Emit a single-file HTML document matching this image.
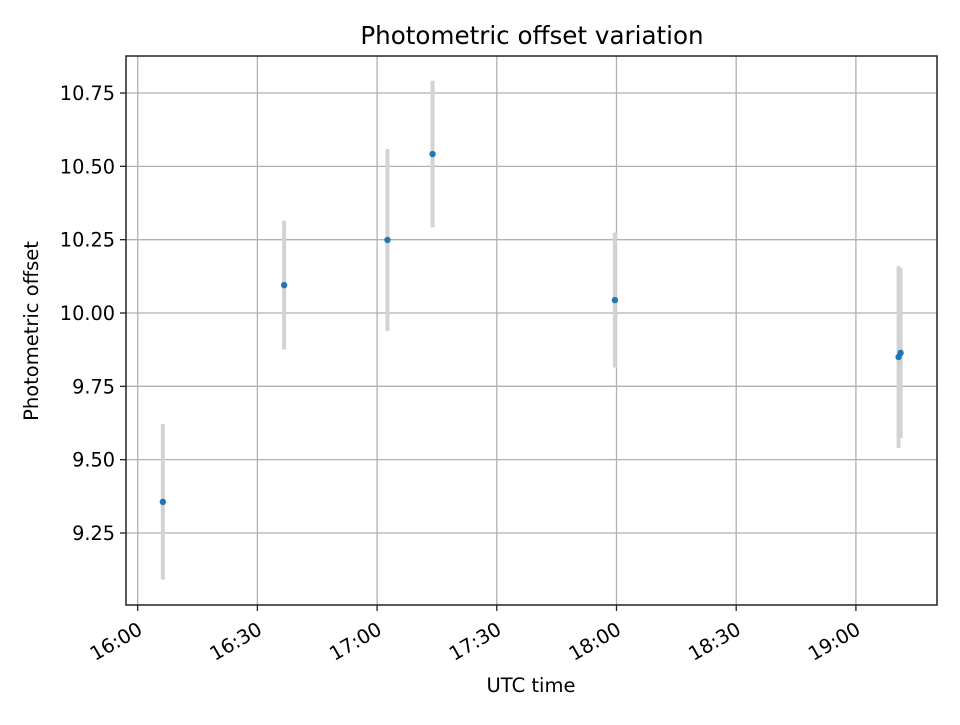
<!DOCTYPE html>
<html><head><meta charset="utf-8"><style>
html,body{margin:0;padding:0;background:#fff;}
svg text{font-family:"DejaVu Sans","Liberation Sans",sans-serif;fill:#000;}
</style></head><body>
<svg id="chart" width="960" height="720" viewBox="0 0 960 720" xmlns="http://www.w3.org/2000/svg">
<rect x="0" y="0" width="960" height="720" fill="#fff"/>
<g id="grid"></g>
<g id="bars"></g>
<g id="points"></g>
<rect x="126" y="56" width="811" height="549" fill="none" stroke="#222" stroke-width="1.5"/>
<g id="xticks"></g>
<g id="yticks"></g>
<text x="532" y="44" text-anchor="middle" font-size="24.6">Photometric offset variation</text>
<text x="531" y="692" text-anchor="middle" font-size="19.5">UTC time</text>
<text transform="translate(38,331) rotate(-90)" text-anchor="middle" font-size="19.5">Photometric offset</text>
</svg>
<script>
// data: minutes after 16:00 UTC
const times = [6.3, 36.7, 62.6, 73.9, 119.6, 190.7, 191.2];
const offsets = [9.356, 10.095, 10.249, 10.542, 10.044, 9.85, 9.864];
const errors = [0.265, 0.22, 0.31, 0.25, 0.23, 0.31, 0.29];
const xTickMinutes = [0, 30, 60, 90, 120, 150, 180];
const xTickLabels = ["16:00","16:30","17:00","17:30","18:00","18:30","19:00"];
const yTickValues = [9.25, 9.5, 9.75, 10.0, 10.25, 10.5, 10.75];
const yTickLabels = ["9.25","9.50","9.75","10.00","10.25","10.50","10.75"];

const NS = "http://www.w3.org/2000/svg";
const L = 126, R = 937, T = 56, B = 605;
function xs(m){ return 137.7 + m * 3.99; }
function ys(v){ return 313 - (v - 10.0) * 293.3; }
function mk(tag, attrs, parent){
  const e = document.createElementNS(NS, tag);
  for (const k in attrs) e.setAttribute(k, attrs[k]);
  parent.appendChild(e); return e;
}
const grid = document.getElementById('grid');
const xt = document.getElementById('xticks');
const yt = document.getElementById('yticks');
xTickMinutes.forEach((m, i) => {
  const x = xs(m);
  const g = mk('line', {x1:x, x2:x, y1:T, y2:B, stroke:'#b0b0b0', 'stroke-width':1.3}, grid);
  
  
  const t = mk('line', {x1:x, x2:x, y1:B, y2:B+6, stroke:'#222', 'stroke-width':1.3}, xt);
  
  
  const lb = mk('text', {transform:'translate(' + (x - 1) + ',' + (B + 16) + ') rotate(-30)', 'text-anchor':'end', 'font-size':19.5, y:14}, xt);
  lb.textContent = xTickLabels[i];
  
  
});
yTickValues.forEach((v, i) => {
  const y = ys(v);
  const g = mk('line', {x1:L, x2:R, y1:y, y2:y, stroke:'#b0b0b0', 'stroke-width':1.3}, grid);
  
  
  const t = mk('line', {x1:L-6, x2:L, y1:y, y2:y, stroke:'#222', 'stroke-width':1.3}, yt);
  
  
  const lb = mk('text', {x:L-11, y:y+7, 'text-anchor':'end', 'font-size':19.3}, yt);
  lb.textContent = yTickLabels[i];
  
  
});
const bars = document.getElementById('bars');
const pts = document.getElementById('points');
times.forEach((m, i) => {
  const x = xs(m);
  const b = mk('line', {x1:x, x2:x, y1:ys(offsets[i] + errors[i]), y2:ys(offsets[i] - errors[i]), stroke:'#d3d3d3', 'stroke-width':4}, bars);
  
  
});
times.forEach((m, i) => {
  const c = mk('circle', {cx:xs(m), cy:ys(offsets[i]), r:3.2, fill:'#1f77b4'}, pts);
  
  
});
</script>
</body></html>
